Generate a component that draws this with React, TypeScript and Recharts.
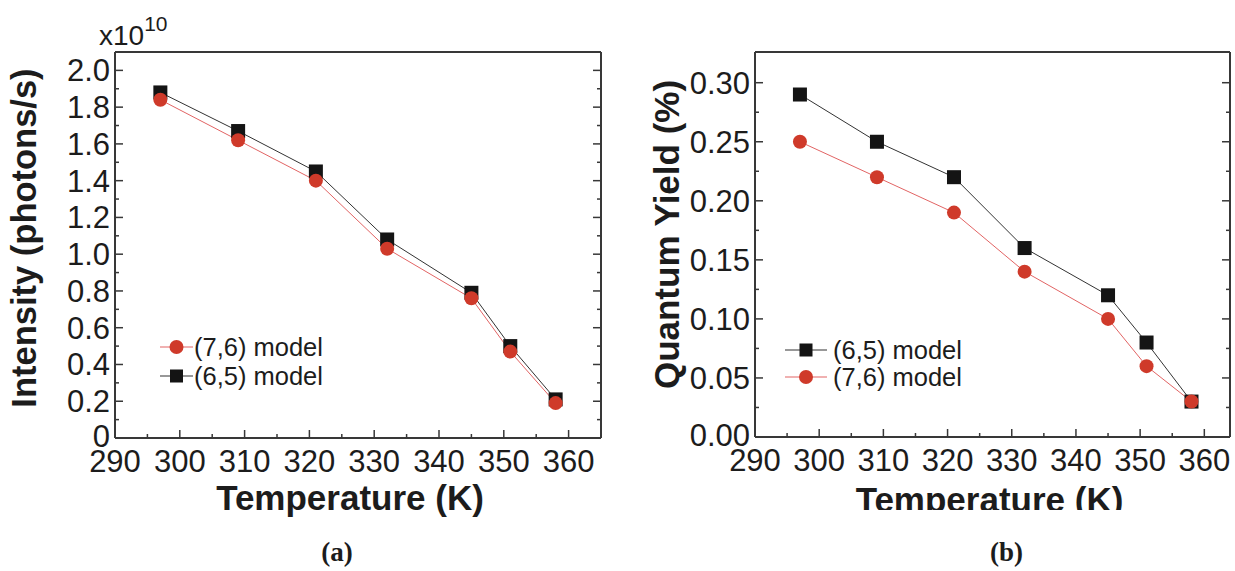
import React from 'react';
import { LineChart, Line, XAxis, YAxis, Legend } from 'recharts';

// ---------- data ----------
const temperaturesK = [297, 309, 321, 332, 345, 351, 358];
const intensity65 = [1.88, 1.67, 1.45, 1.08, 0.79, 0.5, 0.21];
const intensity76 = [1.84, 1.62, 1.4, 1.03, 0.76, 0.47, 0.19];
const yield65 = [0.29, 0.25, 0.22, 0.16, 0.12, 0.08, 0.03];
const yield76 = [0.25, 0.22, 0.19, 0.14, 0.1, 0.06, 0.03];

const xTicksA = [290, 295, 300, 305, 310, 315, 320, 325, 330, 335, 340, 345, 350, 355, 360, 365];
const xTicksB = [290, 295, 300, 305, 310, 315, 320, 325, 330, 335, 340, 345, 350, 355, 360];
const xMajor = [290, 300, 310, 320, 330, 340, 350, 360];
const yTicksA = [0, 0.1, 0.2, 0.3, 0.4, 0.5, 0.6, 0.7, 0.8, 0.9, 1.0, 1.1, 1.2, 1.3, 1.4, 1.5, 1.6, 1.7, 1.8, 1.9, 2.0];
const yMajorA = [0, 0.2, 0.4, 0.6, 0.8, 1.0, 1.2, 1.4, 1.6, 1.8, 2.0];
const yTicksB = [0, 0.025, 0.05, 0.075, 0.1, 0.125, 0.15, 0.175, 0.2, 0.225, 0.25, 0.275, 0.3];
const yMajorB = [0, 0.05, 0.1, 0.15, 0.2, 0.25, 0.3];

const labelA76 = '(7,6) model';
const labelA65 = '(6,5) model';

const dataA = temperaturesK.map((t, i) => ({ t, s65: intensity65[i], s76: intensity76[i] }));
const dataB = temperaturesK.map((t, i) => ({ t, s65: yield65[i], s76: yield76[i] }));

// ---------- style ----------
const SANS = '"Liberation Sans", Arial, Helvetica, sans-serif';
const SERIF = '"Liberation Serif", "Times New Roman", serif';
const FRAME = '#383838';
const TEXT = '#1c1c1c';
const RED = '#cf3a2a';
const RED_LINE = '#e26464';
const BLACK = '#141414';
const BLACK_LINE = '#333333';
const TICK_FONT = 31;

const isMajor = (majors: number[], v: number) => majors.some((m) => Math.abs(m - v) < 1e-9);

function makeTick(side: 'bottom' | 'left' | 'top' | 'right', majors: number[], fmt?: (v: number) => string) {
  return (props: any) => {
    const { x, y, payload } = props;
    const v = payload.value as number;
    const major = isMajor(majors, v);
    const len = major ? 8 : 4;
    let line;
    let label = null;
    if (side === 'bottom') {
      line = <line x1={x} y1={y} x2={x} y2={y - len} stroke={FRAME} strokeWidth={1.5} />;
      if (major && fmt)
        label = (
          <text x={x} y={y + 34} textAnchor="middle" fontSize={TICK_FONT} fontFamily={SANS} fill={TEXT}>
            {fmt(v)}
          </text>
        );
    } else if (side === 'top') {
      line = <line x1={x} y1={y} x2={x} y2={y + len} stroke={FRAME} strokeWidth={1.5} />;
    } else if (side === 'left') {
      line = <line x1={x} y1={y} x2={x + len} y2={y} stroke={FRAME} strokeWidth={1.5} />;
      if (major && fmt)
        label = (
          <text x={x - 5} y={y} dy={v === 0 ? 9 : 11} textAnchor="end" fontSize={TICK_FONT} fontFamily={SANS} fill={TEXT}>
            {fmt(v)}
          </text>
        );
    } else {
      line = <line x1={x} y1={y} x2={x - len} y2={y} stroke={FRAME} strokeWidth={1.5} />;
    }
    return (
      <g>
        {line}
        {label}
      </g>
    );
  };
}

const SquareDot = (props: any) => {
  const { cx, cy, index } = props;
  if (cx == null || cy == null) return <g key={`sq-${index}`} />;
  return <rect key={`sq-${index}`} x={cx - 7} y={cy - 7} width={14} height={14} fill={BLACK} />;
};

type LegendRow = { label: string; kind: 'square' | 'circle'; y: number };

function makeLegend(rows: LegendRow[], lineX1: number, lineX2: number, textX: number) {
  return () => (
    <svg width={230} height={64} style={{ overflow: 'visible' }}>
      {rows.map((r) => {
        const mx = (lineX1 + lineX2) / 2;
        return (
          <g key={r.label}>
            <line
              x1={lineX1}
              x2={lineX2}
              y1={r.y}
              y2={r.y}
              stroke={r.kind === 'square' ? BLACK_LINE : RED_LINE}
              strokeWidth={1.2}
            />
            {r.kind === 'square' ? (
              <rect x={mx - 6.5} y={r.y - 6.5} width={13} height={13} fill={BLACK} />
            ) : (
              <circle cx={mx} cy={r.y} r={7} fill={RED} />
            )}
            <text x={textX} y={r.y} dy={9} fontSize={25.5} fontFamily={SANS} fill={TEXT}>
              {r.label}
            </text>
          </g>
        );
      })}
    </svg>
  );
}

const fmtX = (v: number) => String(v);
const fmtYA = (v: number) => (v === 0 ? '0' : v.toFixed(1));
const fmtYB = (v: number) => v.toFixed(2);

const axisCommon = {
  interval: 0 as const,
  tickSize: 0,
  tickMargin: 0,
  tickLine: false,
  axisLine: { stroke: FRAME, strokeWidth: 2 },
};

function ChartA() {
  return (
    <LineChart width={620} height={571} data={dataA} margin={{ top: 51, left: 114, right: 18, bottom: 132 }}>
      <XAxis
        xAxisId="b"
        dataKey="t"
        type="number"
        domain={[290, 365]}
        ticks={xTicksA}
        height={1}
        {...axisCommon}
        tick={makeTick('bottom', xMajor, fmtX)}
        label={{
          value: 'Temperature (K)',
          content: (p: any) => {
            const vb = p.viewBox;
            const cx = vb.x + vb.width / 2 - 8;
            return (
              <g>
                <text x={cx} y={vb.y + 72} textAnchor="middle" fontSize={35} fontWeight="bold" fontFamily={SANS} fill={TEXT}>
                  Temperature (K)
                </text>
                <text x={cx - 13} y={vb.y + 123} textAnchor="middle" fontSize={27} fontWeight="bold" fontFamily={SERIF} fill={TEXT}>
                  (a)
                </text>
              </g>
            );
          },
        }}
      />
      <XAxis
        xAxisId="t"
        orientation="top"
        type="number"
        domain={[290, 365]}
        ticks={xTicksA}
        height={1}
        {...axisCommon}
        tick={makeTick('top', xMajor)}
        allowDataOverflow
      />
      <YAxis
        yAxisId="l"
        type="number"
        domain={[0, 2.1]}
        ticks={yTicksA}
        width={1}
        {...axisCommon}
        tick={makeTick('left', yMajorA, fmtYA)}
        label={{
          value: 'Intensity (photons/s)',
          content: (p: any) => {
            const vb = p.viewBox;
            const px = vb.x + vb.width;
            const cx = px - 79;
            const cy = vb.y + vb.height / 2 - 7;
            return (
              <g>
                <text
                  x={cx}
                  y={cy}
                  transform={`rotate(-90, ${cx}, ${cy})`}
                  textAnchor="middle"
                  fontSize={34.5}
                  fontWeight="bold"
                  fontFamily={SANS}
                  fill={TEXT}
                >
                  Intensity (photons/s)
                </text>
                <text x={px - 16} y={vb.y - 7} fontSize={28} fontFamily={SANS} fill={TEXT}>
                  x10
                  <tspan dy={-14} fontSize={21}>
                    10
                  </tspan>
                </text>
              </g>
            );
          },
        }}
      />
      <YAxis
        yAxisId="r"
        orientation="right"
        type="number"
        domain={[0, 2.1]}
        ticks={yTicksA}
        width={1}
        {...axisCommon}
        tick={makeTick('right', yMajorA)}
        allowDataOverflow
      />
      <Line
        xAxisId="b"
        yAxisId="l"
        dataKey="s65"
        name={labelA65}
        stroke={BLACK_LINE}
        strokeWidth={1}
        dot={SquareDot}
        activeDot={false}
        isAnimationActive={false}
      />
      <Line
        xAxisId="b"
        yAxisId="l"
        dataKey="s76"
        name={labelA76}
        stroke={RED_LINE}
        strokeWidth={1}
        dot={{ r: 7, fill: RED, stroke: 'none', strokeWidth: 0 }}
        activeDot={false}
        isAnimationActive={false}
      />
      <Legend
        layout="horizontal"
        verticalAlign="middle"
        align="center"
        wrapperStyle={{ left: 155, top: 330, width: 230, height: 64 }}
        content={makeLegend(
          [
            { label: labelA76, kind: 'circle', y: 17 },
            { label: labelA65, kind: 'square', y: 46 },
          ],
          5,
          38,
          39
        )}
      />
    </LineChart>
  );
}

function ChartB() {
  return (
    <LineChart width={615} height={571} data={dataB} margin={{ top: 51, left: 134, right: 4, bottom: 133 }}>
      <defs>
        <clipPath id="clipTitleB">
          <rect x={0} y={0} width={615} height={510} />
        </clipPath>
      </defs>
      <XAxis
        xAxisId="b"
        dataKey="t"
        type="number"
        domain={[290, 364]}
        ticks={xTicksB}
        height={1}
        {...axisCommon}
        tick={makeTick('bottom', xMajor, fmtX)}
        label={{
          value: 'Temperature (K)',
          content: (p: any) => {
            const vb = p.viewBox;
            const cx = vb.x + vb.width / 2 - 3;
            return (
              <g>
                <text
                  x={cx}
                  y={vb.y + 75}
                  textAnchor="middle"
                  fontSize={35}
                  fontWeight="bold"
                  fontFamily={SANS}
                  fill={TEXT}
                  clipPath="url(#clipTitleB)"
                >
                  Temperature (K)
                </text>
                <text x={cx + 17} y={vb.y + 124} textAnchor="middle" fontSize={27} fontWeight="bold" fontFamily={SERIF} fill={TEXT}>
                  (b)
                </text>
              </g>
            );
          },
        }}
      />
      <XAxis
        xAxisId="t"
        orientation="top"
        type="number"
        domain={[290, 364]}
        ticks={xTicksB}
        height={1}
        {...axisCommon}
        tick={makeTick('top', xMajor)}
        allowDataOverflow
      />
      <YAxis
        yAxisId="l"
        type="number"
        domain={[0, 0.326]}
        ticks={yTicksB}
        width={1}
        {...axisCommon}
        tick={makeTick('left', yMajorB, fmtYB)}
        label={{
          value: 'Quantum Yield (%)',
          content: (p: any) => {
            const vb = p.viewBox;
            const px = vb.x + vb.width;
            const cx = px - 76;
            const cy = vb.y + vb.height / 2 - 10;
            return (
              <text
                x={cx}
                y={cy}
                transform={`rotate(-90, ${cx}, ${cy})`}
                textAnchor="middle"
                fontSize={35}
                fontWeight="bold"
                fontFamily={SANS}
                fill={TEXT}
              >
                Quantum Yield (%)
              </text>
            );
          },
        }}
      />
      <YAxis
        yAxisId="r"
        orientation="right"
        type="number"
        domain={[0, 0.326]}
        ticks={yTicksB}
        width={1}
        {...axisCommon}
        tick={makeTick('right', yMajorB)}
        allowDataOverflow
      />
      <Line
        xAxisId="b"
        yAxisId="l"
        dataKey="s65"
        name={labelA65}
        stroke={BLACK_LINE}
        strokeWidth={1}
        dot={SquareDot}
        activeDot={false}
        isAnimationActive={false}
      />
      <Line
        xAxisId="b"
        yAxisId="l"
        dataKey="s76"
        name={labelA76}
        stroke={RED_LINE}
        strokeWidth={1}
        dot={{ r: 7, fill: RED, stroke: 'none', strokeWidth: 0 }}
        activeDot={false}
        isAnimationActive={false}
      />
      <Legend
        layout="horizontal"
        verticalAlign="middle"
        align="center"
        wrapperStyle={{ left: 160, top: 330, width: 230, height: 64 }}
        content={makeLegend(
          [
            { label: labelA65, kind: 'square', y: 20 },
            { label: labelA76, kind: 'circle', y: 47 },
          ],
          5,
          47,
          53
        )}
      />
    </LineChart>
  );
}

export default function App() {
  return (
    <div style={{ position: 'absolute', left: 0, top: 0, width: 1235, height: 571, background: '#ffffff', overflow: 'hidden' }}>
      <div style={{ position: 'absolute', left: 0, top: 0 }}>
        <ChartA />
      </div>
      <div style={{ position: 'absolute', left: 620, top: 0 }}>
        <ChartB />
      </div>
    </div>
  );
}
